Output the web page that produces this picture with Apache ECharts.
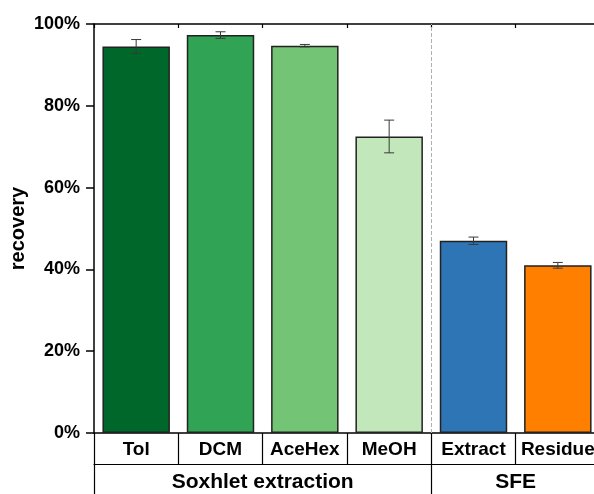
<!DOCTYPE html>
<html>
<head>
<meta charset="utf-8">
<script src="https://cdn.jsdelivr.net/npm/echarts@6/dist/echarts.min.js"></script>
<style>
  html, body { margin: 0; padding: 0; background: #fff; overflow: hidden; }
  #chart { width: 600px; height: 494px; }
</style>
</head>
<body>
<div id="chart"></div>
<script>
// Extraction methods and their recovery (mean, %) with standard deviation
const categories = ['Tol', 'DCM', 'AceHex', 'MeOH', 'Extract', 'Residue'];
const recovery = [94.5, 97.3, 94.7, 72.5, 47.0, 41.0];
const errors = [1.7, 0.8, 0.3, 4.0, 0.9, 0.7];
const barColors = ['#00672b', '#31a354', '#74c476', '#c2e7bb', '#2e75b6', '#ff7f00'];

// Method groups shown in the second label row (name, number of categories)
const groups = ['Soxhlet extraction', 'SFE'];
const groupSpan = [4, 2];

const groupEdges = [0];
groupSpan.forEach(s => groupEdges.push(groupEdges[groupEdges.length - 1] + s));
const groupCenters = groupSpan.map((s, i) => groupEdges[i] + s / 2);

const font = '"Liberation Sans", Arial, sans-serif';
const chart = echarts.init(document.getElementById('chart'));

chart.setOption({
  animation: false,
  backgroundColor: '#fff',
  grid: { left: 94, right: 0, top: 24, bottom: 61, containLabel: false, outerBoundsMode: 'none' },
  xAxis: [
    {
      type: 'category',
      data: categories,
      position: 'bottom',
      axisLine: { lineStyle: { color: '#000', width: 1.5 } },
      axisTick: { show: true, interval: 0, length: 31, lineStyle: { color: '#000', width: 1.2 } },
      axisLabel: { interval: 0, margin: 7, color: '#000', fontFamily: font, fontWeight: 'bold', fontSize: 19 }
    },
    {
      type: 'value',
      min: 0, max: categories.length,
      position: 'bottom',
      offset: 31,
      splitLine: { show: false },
      axisLine: { show: true, onZero: false, lineStyle: { color: '#000', width: 1.2 } },
      axisTick: { show: true, length: 32, customValues: groupEdges, lineStyle: { color: '#000', width: 1.2 } },
      axisLabel: {
        customValues: groupCenters, margin: 8, color: '#000', fontFamily: font, fontWeight: 'bold', fontSize: 21,
        formatter: v => {
          const i = groupCenters.indexOf(v);
          return i >= 0 ? groups[i] : '';
        }
      }
    },
    {
      type: 'value',
      min: 0, max: categories.length, interval: 1,
      position: 'top',
      splitLine: { show: false },
      axisLine: { show: true, onZero: false, lineStyle: { color: '#000', width: 1.5 } },
      axisTick: { show: true, inside: true, length: 4, lineStyle: { color: '#000', width: 1.2 } },
      axisLabel: { show: false }
    }
  ],
  yAxis: {
    type: 'value',
    min: 0, max: 100, interval: 20,
    name: 'recovery',
    nameLocation: 'middle',
    nameGap: 66,
    nameMoveOverlap: false,
    nameTextStyle: { color: '#000', fontFamily: font, fontWeight: 'bold', fontSize: 20 },
    splitLine: { show: false },
    axisLine: { show: true, lineStyle: { color: '#000', width: 1.5 } },
    axisTick: { show: true, length: 8, lineStyle: { color: '#000', width: 1.5 } },
    axisLabel: { formatter: '{value}%', margin: 14, color: '#000', fontFamily: font, fontWeight: 'bold', fontSize: 18 }
  },
  series: [
    {
      type: 'bar',
      xAxisIndex: 0,
      barWidth: '80%',
      data: recovery.map((v, i) => ({
        value: v,
        itemStyle: { color: barColors[i], borderColor: '#222', borderWidth: 1.5 }
      })),
      z: 2
    },
    {
      type: 'custom',
      xAxisIndex: 0,
      z: 3,
      data: categories.map((c, i) => [i, recovery[i], errors[i]]),
      renderItem: (params, api) => {
        const x = api.value(0), y = api.value(1), e = api.value(2);
        const hi = api.coord([x, y + e]);
        const lo = api.coord([x, y - e]);
        const w = 5;
        const style = { stroke: '#3a3a3a', lineWidth: 1 };
        return {
          type: 'group',
          children: [
            { type: 'line', shape: { x1: hi[0], y1: hi[1], x2: lo[0], y2: lo[1] }, style },
            { type: 'line', shape: { x1: hi[0] - w, y1: hi[1], x2: hi[0] + w, y2: hi[1] }, style },
            { type: 'line', shape: { x1: lo[0] - w, y1: lo[1], x2: lo[0] + w, y2: lo[1] }, style }
          ]
        };
      }
    },
    {
      // dashed divider between the two method groups
      type: 'line',
      xAxisIndex: 1,
      data: [],
      markLine: {
        silent: true,
        symbol: 'none',
        label: { show: false },
        lineStyle: { type: 'dashed', color: '#b0b0b0', width: 1 },
        data: [{ xAxis: groupEdges[1] }]
      }
    }
  ]
});
</script>
</body>
</html>
